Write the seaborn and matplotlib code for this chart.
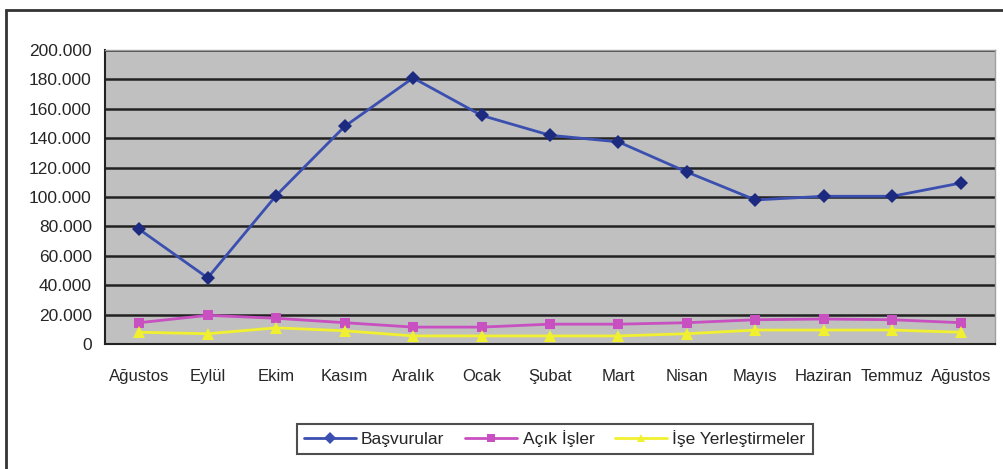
import numpy as np
import pandas as pd
import seaborn as sns
import matplotlib.pyplot as plt
from matplotlib.patches import Rectangle
from matplotlib.ticker import FuncFormatter, MultipleLocator

months = ["Ağustos", "Eylül", "Ekim", "Kasım", "Aralık", "Ocak", "Şubat",
          "Mart", "Nisan", "Mayıs", "Haziran", "Temmuz", "Ağustos"]
basvurular = [78000, 45000, 101000, 148000, 181000, 155500, 142000,
              137500, 117000, 98000, 100500, 100500, 109500]
acik_isler = [14500, 19500, 17500, 14500, 11500, 11500, 13500,
              13500, 14500, 16500, 17000, 16500, 14500]
ise_yerlestirme = [8000, 7000, 11000, 9000, 5500, 5500, 5500,
                   5500, 7000, 9500, 9500, 9500, 8000]
series = ["Başvurular", "Açık İşler", "İşe Yerleştirmeler"]

rows = []
for name, vals in zip(series, [basvurular, acik_isler, ise_yerlestirme]):
    for i, v in enumerate(vals):
        rows.append({"idx": i, "value": v, "seri": name})
df = pd.DataFrame(rows)

sns.set_style("white")
plt.rcParams["font.family"] = ["Liberation Sans", "DejaVu Sans"]

fig = plt.figure(figsize=(10.04, 4.69), dpi=100)
ax = fig.add_axes([0.1046, 0.2665, 0.8864, 0.6269])

palette = {"Başvurular": "#3a4fb0", "Açık İşler": "#c850c0", "İşe Yerleştirmeler": "#f0f030"}
markers = {"Başvurular": "D", "Açık İşler": "s", "İşe Yerleştirmeler": "^"}
sns.lineplot(data=df, x="idx", y="value", hue="seri", style="seri",
             palette=palette, markers=markers, dashes=False, sort=False,
             linewidth=2, markersize=7, markeredgewidth=0, ax=ax)

# darker markers for the first series, bigger triangles
ax.lines[0].set_markerfacecolor("#1c2a80")
ax.lines[2].set_markersize(9)

ax.set_facecolor("#c0c0c0")
ax.set_xlim(-0.5, 12.5)
ax.set_ylim(0, 200000)
ax.yaxis.set_major_locator(MultipleLocator(20000))
ax.yaxis.set_major_formatter(FuncFormatter(lambda v, p: f"{int(v):,}".replace(",", ".")))
ax.grid(axis="y", color="#222222", linewidth=1.8)
ax.set_axisbelow(True)

ax.set_xticks(np.arange(-0.5, 13, 1))
ax.set_xticklabels([])
ax.set_xticks(np.arange(13), minor=True)
ax.set_xticklabels(months, minor=True)
ax.tick_params(axis="x", which="major", direction="out", length=6, width=1.5, color="#222222")
ax.tick_params(axis="x", which="minor", length=0, pad=18, labelsize=12)
ax.tick_params(axis="y", direction="out", length=6, width=1.5, color="#222222", labelsize=12.5)
ax.set_xlabel("")
ax.set_ylabel("")

for side in ["left", "bottom"]:
    ax.spines[side].set_color("#222222")
    ax.spines[side].set_linewidth(1.5)
for side in ["top", "right"]:
    ax.spines[side].set_color("#a0a0a0")
    ax.spines[side].set_linewidth(1)

handles, labels = ax.get_legend_handles_labels()
for h in handles:
    h.set_markersize(6)
leg = ax.legend(handles, labels, loc="center", bbox_to_anchor=(0.5525, 0.064),
                bbox_transform=fig.transFigure, ncol=3, frameon=True,
                fontsize=12.5, fancybox=False, handlelength=3, columnspacing=1.2,
                handletextpad=0.3, borderpad=0.4)
leg.get_frame().set_edgecolor("#222222")
leg.get_frame().set_linewidth(1.5)

# outer chart frame
fig.patches.append(Rectangle((0.006, -0.05), 1.1, 1.028, transform=fig.transFigure,
                             fill=False, edgecolor="#333333", linewidth=2))

fig.savefig("out.png", dpi=100)
